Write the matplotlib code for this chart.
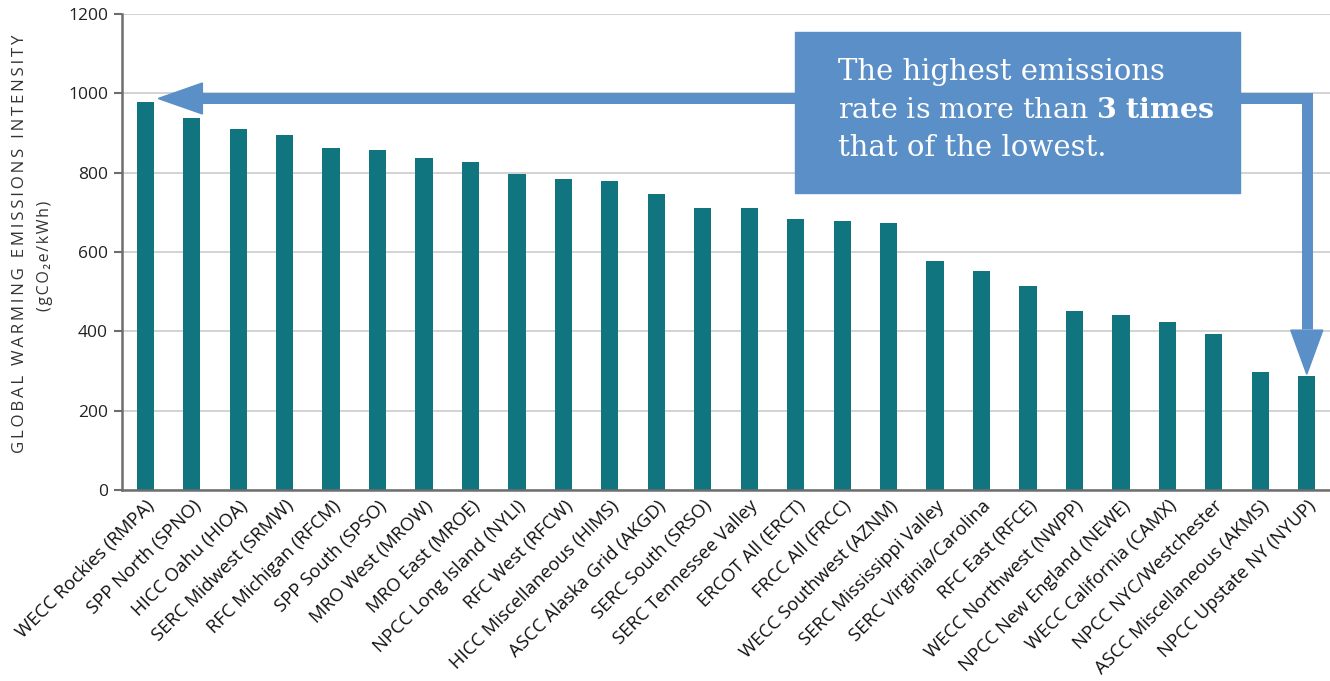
import numpy as np
import matplotlib
matplotlib.use("Agg")
import matplotlib.pyplot as plt
from matplotlib.patches import Polygon, Rectangle

# eGRID subregions, sorted from highest to lowest emissions
regions = [
    "WECC Rockies (RMPA)", "SPP North (SPNO)", "HICC Oahu (HIOA)",
    "SERC Midwest (SRMW)", "RFC Michigan (RFCM)", "SPP South (SPSO)",
    "MRO West (MROW)", "MRO East (MROE)", "NPCC Long Island (NYLI)",
    "RFC West (RFCW)", "HICC Miscellaneous (HIMS)", "ASCC Alaska Grid (AKGD)",
    "SERC South (SRSO)", "SERC Tennessee Valley", "ERCOT All (ERCT)",
    "FRCC All (FRCC)", "WECC Southwest (AZNM)", "SERC Mississippi Valley",
    "SERC Virginia/Carolina", "RFC East (RFCE)", "WECC Northwest (NWPP)",
    "NPCC New England (NEWE)", "WECC California (CAMX)", "NPCC NYC/Westchester",
    "ASCC Miscellaneous (AKMS)", "NPCC Upstate NY (NYUP)",
]
emissions = [978, 938, 910, 895, 862, 857, 838, 828, 797, 784, 779, 746, 711,
             711, 683, 678, 673, 577, 552, 514, 451, 441, 423, 393, 297, 287]
yticks = [0, 200, 400, 600, 800, 1000, 1200]

bar_color = "#117580"
arrow_color = "#5b8fc7"
sans = ["Open Sans", "DejaVu Sans"]

plt.rcParams["mathtext.fontset"] = "dejavuserif"

fig = plt.figure(figsize=(13.3, 6.81), dpi=100)
ax = fig.add_axes([122 / 1330, 1 - 490 / 681, 1208 / 1330, 476 / 681])

x = np.arange(len(regions))
ax.bar(x, emissions, width=0.37, color=bar_color, zorder=2)

ax.set_xlim(-0.5, len(regions) - 0.5)
ax.set_ylim(0, 1200)
ax.set_yticks(yticks)
ax.set_yticklabels([str(t) for t in yticks], family=sans, fontsize=12.5, color="#222222")
ax.set_xticks(x)
ax.set_xticklabels(regions, rotation=45, ha="right", va="top", rotation_mode="anchor",
                   family=sans, fontsize=13.3, color="#111111")
ax.tick_params(axis="x", length=0, pad=5)
ax.tick_params(axis="y", length=6, width=1.5, color="#6e6e6e", pad=4)
ax.grid(axis="y", color="#cccccc", linewidth=1.2, zorder=0)
for side in ["top", "right"]:
    ax.spines[side].set_visible(False)
for side in ["left", "bottom"]:
    ax.spines[side].set_color("#6e6e6e")
    ax.spines[side].set_linewidth(1.8)

# y axis title, letter spaced
title1 = "\u2009".join("GLOBAL WARMING EMISSIONS INTENSITY")
title2 = "\u200a".join("(gCO\u2082e/kWh)")
fig.text(20 / 1330, 1 - 244 / 681, title1, rotation=90, ha="center", va="center",
         family=sans, fontsize=12.2, color="#333333")
fig.text(45 / 1330, 1 - 256 / 681, title2, rotation=90, ha="center", va="center",
         family=sans, fontsize=11.5, color="#333333")

# connector arrows, highest to lowest
line_y = 987
last = len(regions) - 1
ax.plot([1.2, last, last], [line_y, line_y, 405], color=arrow_color, lw=7.9,
        solid_joinstyle="miter", solid_capstyle="butt", zorder=3, clip_on=False)
ax.add_patch(Polygon([[0.28, line_y], [1.23, line_y + 39], [1.23, line_y - 39]],
                     closed=True, color=arrow_color, zorder=3, clip_on=False))
ax.add_patch(Polygon([[last, emissions[-1] + 5], [last - 0.345, 403], [last + 0.345, 403]],
                     closed=True, color=arrow_color, zorder=3, clip_on=False))

# callout box
fig.patches.append(Rectangle((795 / 1330, 1 - 193 / 681), 445 / 1330, 161 / 681,
                             transform=fig.transFigure, color=arrow_color, zorder=5))
tx = 838 / 1330
fig.text(tx, 1 - 80 / 681, "The highest emissions", color="white", family="DejaVu Serif",
         fontsize=21, va="baseline", zorder=6)
fig.text(tx, 1 - 118 / 681, r"rate is more than $\mathbf{3\ times}$", color="white",
         family="DejaVu Serif", fontsize=20.5, va="baseline", zorder=6)
fig.text(tx, 1 - 156 / 681, "that of the lowest.", color="white", family="DejaVu Serif",
         fontsize=21, va="baseline", zorder=6)

fig.savefig("out.png", dpi=100)
